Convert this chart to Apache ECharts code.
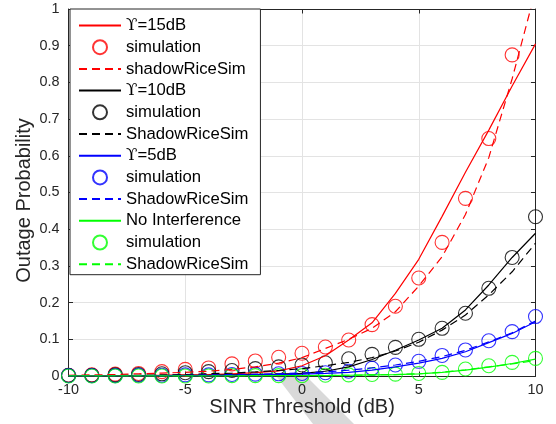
<!DOCTYPE html>
<html><head><meta charset="utf-8">
<script src="https://cdn.jsdelivr.net/npm/echarts@6/dist/echarts.min.js"></script>
<style>html,body{margin:0;padding:0;background:#fff}#c{width:556px;height:424px}</style>
</head><body><div id="c"></div><script>
// ---- data ----
const snr = [-10,-9,-8,-7,-6,-5,-4,-3,-2,-1,0,1,2,3,4,5,6,7,8,9,10];
const xTickLabels = ['-10','-5','0','5','10'];
const yTickLabels = ['0','0.1','0.2','0.3','0.4','0.5','0.6','0.7','0.8','0.9','1'];
const legendNames = ['\u03D2=15dB','simulation','shadowRiceSim','\u03D2=10dB','simulation','ShadowRiceSim','\u03D2=5dB','simulation','ShadowRiceSim','No Interference','simulation','ShadowRiceSim'];

const red15Theory = [0.000,0.000,0.001,0.001,0.002,0.003,0.004,0.006,0.009,0.014,0.028,0.055,0.098,0.145,0.225,0.318,0.435,0.555,0.670,0.790,0.905];
const red15Sim    = [0.002,0.003,0.005,0.007,0.012,0.018,0.022,0.033,0.041,0.051,0.062,0.079,0.098,0.140,0.190,0.267,0.364,0.484,0.647,0.875,null];
const red15Shadow = [0.002,0.003,0.004,0.006,0.008,0.010,0.013,0.018,0.025,0.035,0.050,0.075,0.100,0.130,0.175,0.245,0.325,0.440,0.595,0.810,1.050];

const blk10Theory = [0.000,0.000,0.000,0.001,0.001,0.002,0.002,0.003,0.004,0.005,0.007,0.013,0.025,0.045,0.070,0.098,0.130,0.180,0.248,0.323,0.389];
const blk10Sim    = [0.002,0.002,0.003,0.004,0.006,0.009,0.012,0.015,0.020,0.025,0.030,0.036,0.047,0.059,0.078,0.100,0.130,0.171,0.239,0.323,0.434];
const blk10Shadow = [0.000,0.001,0.001,0.002,0.003,0.004,0.006,0.008,0.011,0.015,0.020,0.028,0.037,0.050,0.068,0.092,0.125,0.166,0.221,0.284,0.362];

const blu5Theory  = [0.000,0.000,0.000,0.000,0.001,0.001,0.001,0.002,0.003,0.004,0.005,0.007,0.010,0.016,0.025,0.035,0.048,0.066,0.091,0.116,0.148];
const blu5Sim     = [0.001,0.001,0.001,0.002,0.002,0.003,0.003,0.004,0.005,0.006,0.007,0.009,0.013,0.021,0.030,0.040,0.056,0.071,0.096,0.121,0.162];
const blu5Shadow  = [0.000,0.000,0.001,0.001,0.001,0.002,0.003,0.004,0.005,0.006,0.008,0.011,0.016,0.022,0.030,0.040,0.053,0.070,0.093,0.118,0.150];

const grnTheory   = [0.000,0.000,0.000,0.000,0.000,0.000,0.000,0.000,0.000,0.001,0.001,0.001,0.002,0.003,0.004,0.006,0.010,0.016,0.024,0.034,0.046];
const grnSim      = [0.000,0.000,0.000,0.000,0.000,0.000,0.000,0.001,0.001,0.001,0.001,0.002,0.003,0.004,0.005,0.007,0.010,0.019,0.028,0.037,0.048];
const grnShadow   = [0.000,0.000,0.000,0.000,0.000,0.000,0.000,0.000,0.001,0.001,0.001,0.002,0.002,0.003,0.004,0.006,0.010,0.017,0.025,0.033,0.042];

// ---- build ----
const FONT = "'Liberation Sans', Arial, 'DejaVu Sans', sans-serif";
const AX = '#262626';
function pairs(ys){ const out=[]; for(let i=0;i<snr.length;i++){ if(ys[i]!=null) out.push([snr[i], ys[i]]); } return out; }
// unique legend keys (zero-width spaces keep duplicate visible names distinct)
const keys = legendNames.map((n,i)=> n + '\u200B'.repeat(i));
const groups = [
  {color:'#ff0000', th:red15Theory, sim:red15Sim, sh:red15Shadow},
  {color:'#000000', th:blk10Theory, sim:blk10Sim, sh:blk10Shadow},
  {color:'#0000ff', th:blu5Theory,  sim:blu5Sim,  sh:blu5Shadow},
  {color:'#00ff00', th:grnTheory,   sim:grnSim,   sh:grnShadow}
];
const series = [];
const legendData = [];
const hidden = {color:'rgba(0,0,0,0)', borderColor:'rgba(0,0,0,0)', borderWidth:0, opacity:0};
groups.forEach((g,gi)=>{
  series.push({type:'line', name:keys[gi*3], data:pairs(g.th), symbol:'none', clip:true,
    lineStyle:{color:g.color, width:1.2, type:'solid'}, itemStyle:{color:g.color}, emphasis:{disabled:true}});
  series.push({type:'scatter', name:keys[gi*3+1], data:pairs(g.sim), symbol:'circle', symbolSize:14, clip:true,
    itemStyle:{color:'rgba(0,0,0,0)', borderColor:g.color, borderWidth:1.1}, emphasis:{disabled:true}});
  series.push({type:'line', name:keys[gi*3+2], data:pairs(g.sh), symbol:'none', clip:true,
    lineStyle:{color:g.color, width:1.2, type:[8,5]}, itemStyle:{color:g.color}, emphasis:{disabled:true}});
  legendData.push({name:keys[gi*3], itemStyle:hidden});
  legendData.push({name:keys[gi*3+1]});
  legendData.push({name:keys[gi*3+2], itemStyle:hidden});
});

const chart = echarts.init(document.getElementById('c'), null, {renderer:'canvas'});
chart.setOption({
  animation:false,
  backgroundColor:'#ffffff',
  textStyle:{fontFamily:FONT},
  grid:{left:68.5, top:9, width:467, height:367, containLabel:false, outerBoundsMode:'none'},
  graphic:[{type:'polygon', z:-100, silent:true,
    shape:{points:[[277,377],[307,377],[354,424],[313,424]]}, style:{fill:'#d9d9d9'}}],
  legend:{
    orient:'vertical', left:70, top:9,
    data:legendData,
    itemWidth:42, itemHeight:14, itemGap:4.7,
    padding:[8,12,2,8],
    backgroundColor:'#ffffff', borderColor:AX, borderWidth:1,
    selectedMode:false,
    textStyle:{fontFamily:FONT, fontSize:16.7, color:'#000', lineHeight:17,
      rich:{u:{fontFamily:"'DejaVu Serif', 'Liberation Serif', serif", fontSize:16.7, color:'#000', lineHeight:17}}},
    formatter:(n)=>{
      const t = n.replace(/\u200B/g,'');
      return t.charAt(0)==='\u03D2' ? '{u|\u03D2}' + t.slice(1) : t;
    }
  },
  xAxis:[{
    type:'value', min:-10, max:10, interval:5, position:'bottom',
    name:'SINR Threshold (dB)', nameLocation:'middle', nameGap:21, nameMoveOverlap:false,
    nameTextStyle:{fontFamily:FONT, fontSize:20, color:AX},
    axisLine:{show:true, onZero:false, lineStyle:{color:AX, width:1}},
    axisTick:{show:true, inside:true, length:4.5, lineStyle:{color:AX}},
    axisLabel:{show:true, margin:7, fontFamily:FONT, fontSize:14.4, color:AX,
      formatter:(v)=>{const i=Math.round((v+10)/5); return xTickLabels[i]!==undefined?xTickLabels[i]:'';}},
    splitLine:{show:true, lineStyle:{color:'#e3e3e3', width:1}}
  },{
    type:'value', min:-10, max:10, interval:5, position:'top',
    axisLine:{show:true, onZero:false, lineStyle:{color:AX, width:1}},
    axisTick:{show:true, inside:true, length:4.5, lineStyle:{color:AX}},
    axisLabel:{show:false}, splitLine:{show:false}
  }],
  yAxis:[{
    type:'value', min:0, max:1, interval:0.1, position:'left',
    name:'Outage Probability', nameLocation:'middle', nameGap:34, nameRotate:90, nameMoveOverlap:false,
    nameTextStyle:{fontFamily:FONT, fontSize:20, color:AX, padding:[0,16,0,0]},
    axisLine:{show:true, onZero:false, lineStyle:{color:AX, width:1}},
    axisTick:{show:true, inside:true, length:4.5, lineStyle:{color:AX}},
    axisLabel:{show:true, margin:9, fontFamily:FONT, fontSize:14.4, color:AX,
      formatter:(v)=>{const i=Math.round(v*10); return yTickLabels[i]!==undefined?yTickLabels[i]:'';}},
    splitLine:{show:true, lineStyle:{color:'#e3e3e3', width:1}}
  },{
    type:'value', min:0, max:1, interval:0.1, position:'right',
    axisLine:{show:true, onZero:false, lineStyle:{color:AX, width:1}},
    axisTick:{show:true, inside:true, length:4.5, lineStyle:{color:AX}},
    axisLabel:{show:false}, splitLine:{show:false}
  }],
  series:series
});
</script></body></html>
